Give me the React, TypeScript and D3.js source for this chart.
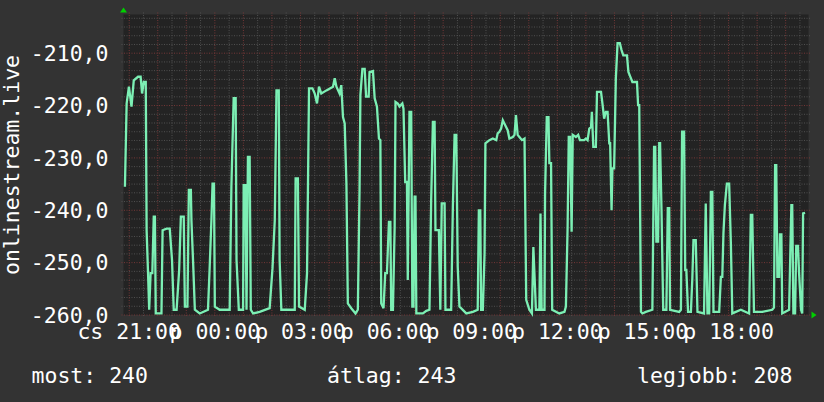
import React from 'react';
import * as d3 from 'd3';

// hours relative to Thursday 21:00
const hours = [
  -0.15, -0.09, -0.01, 0.08, 0.16, 0.31, 0.40, 0.45, 0.51, 0.58, 0.61, 0.66, 0.70, 0.75, 0.81, 0.86, 0.90, 0.93,
  1.13, 1.17, 1.31, 1.42, 1.50, 1.56, 1.66, 1.75, 1.81, 1.91, 1.95, 2.04, 2.09, 2.16, 2.18, 2.24, 2.30, 2.47,
  2.76, 2.82, 2.88, 2.92, 2.97, 3.00, 3.17, 3.52, 3.58, 3.66, 3.73, 3.76, 3.84, 3.99, 4.01, 4.07, 4.11, 4.16,
  4.22, 4.26, 4.34, 4.57, 4.92, 5.02, 5.10, 5.16, 5.24, 5.27, 5.33, 5.80, 5.83, 5.91, 5.95, 6.15, 6.23, 6.30,
  6.42, 6.50, 6.58, 6.65, 6.73, 6.91, 7.14, 7.20, 7.26, 7.37, 7.43, 7.49, 7.55, 7.61, 7.66, 7.78, 7.93, 8.01,
  8.07, 8.10, 8.17, 8.25, 8.30, 8.39, 8.42, 8.54, 8.60, 8.68, 8.75, 8.80, 8.83, 8.91, 8.97, 9.03, 9.10, 9.15,
  9.18, 9.24, 9.30, 9.33, 9.41, 9.47, 9.57, 9.61, 9.67, 9.73, 9.76, 9.82, 9.88, 9.92, 9.96, 10.00, 10.03, 10.06,
  10.29, 10.41, 10.52, 10.58, 10.64, 10.70, 10.73, 10.85, 10.90, 10.95, 11.05, 11.08, 11.28, 11.34, 11.40, 11.46,
  11.51, 11.57, 11.81, 12.04, 12.21, 12.25, 12.30, 12.33, 12.39, 12.45, 12.48, 12.62, 12.74, 12.86, 12.91, 12.97,
  13.03, 13.09, 13.17, 13.26, 13.32, 13.44, 13.50, 13.55, 13.61, 13.67, 13.76, 13.85, 13.91, 14.02, 14.11, 14.16,
  14.19, 14.25, 14.37, 14.41, 14.45, 14.55, 14.57, 14.63, 14.69, 14.72, 14.78, 14.82, 15.07, 15.25, 15.30, 15.36,
  15.40, 15.45, 15.50, 15.54, 15.65, 15.73, 15.79, 15.94, 16.00, 16.06, 16.12, 16.18, 16.21, 16.26, 16.35, 16.39,
  16.53, 16.58, 16.64, 16.70, 16.76, 16.82, 16.85, 16.90, 16.93, 16.99, 17.05, 17.11, 17.19, 17.25, 17.31, 17.44,
  17.49, 17.58, 17.63, 17.79, 17.83, 17.87, 17.93, 17.98, 18.10, 18.33, 18.39, 18.43, 18.47, 18.53, 18.57, 18.60,
  18.65, 18.71, 18.82, 18.87, 18.92, 18.95, 19.27, 19.33, 19.37, 19.44, 19.48, 19.52, 19.58, 19.68, 19.73, 19.77,
  19.85, 19.91, 20.14, 20.20, 20.26, 20.32, 20.38, 20.43, 20.47, 20.67, 20.73, 20.78, 20.82, 20.87, 20.94, 21.02,
  21.08, 21.13, 21.43, 21.72, 21.78, 21.83, 21.89, 22.18, 22.53, 22.59, 22.63, 22.67, 22.71, 22.77, 22.80, 22.85,
  22.88, 23.12, 23.20, 23.23, 23.27, 23.33, 23.37, 23.43, 23.47, 23.54, 23.58, 23.61, 23.68,
];

const values = [
  -235.5, -219.6, -216.4, -220.2, -215.2, -214.5, -214.5, -217.7, -215.5, -215.5, -243.8, -252, -259, -252, -252, -241.2, -241.2, -259.7,
  -259.7, -243.8, -243.5, -243.5, -249.5, -259, -259, -251.4, -241.2, -241.2, -258.4, -258.4, -236.1, -236.1, -241.9, -250.1, -259, -259.7,
  -259, -250.8, -241.9, -234.9, -234.9, -258.4, -259, -259, -235.5, -218.6, -218.6, -249.5, -259, -259, -235.2, -235.2, -259, -229.8,
  -229.8, -259, -259.7, -259.4, -258.7, -251.1, -241.9, -217.1, -217.1, -249.5, -259, -259, -233.9, -233.9, -258.4, -259, -252, -216.7,
  -216.7, -217.7, -219.6, -216.4, -217.7, -217.1, -216.4, -214.8, -216.4, -217.7, -216.1, -222.2, -223.4, -234.9, -257.8, -258.7, -259.7, -259,
  -236.1, -218.0, -213.0, -213.0, -218.3, -218.3, -213.6, -213.4, -218.6, -220.2, -226.3, -226.6, -257.8, -258.7, -252, -252, -242.2, -242.2,
  -259, -259, -243.2, -219.3, -219.6, -220.2, -219.6, -220.6, -234.6, -234.6, -253.3, -221.2, -221.2, -258.4, -258.4, -237.4, -237.4, -259.7,
  -259.7, -259.2, -259, -238, -223.1, -223.1, -243.8, -243.8, -259, -238.7, -238.7, -259, -259, -239.3, -225.6, -225.6,
  -250.8, -258.4, -259.7, -259.4, -259, -240, -240, -259, -259, -248.2, -227.2, -226.6, -226.3, -226.6, -225.3, -225,
  -224.4, -222.8, -223.7, -224.7, -226.3, -226, -225.6, -221.8, -225.6, -226, -226.6, -226.3, -257.1, -259, -259.7, -247,
  -251.1, -259, -259, -240.6, -259, -259, -236.8, -222.2, -222.2, -231, -231, -259, -259.7, -259.4, -258.4, -243.2,
  -226, -226, -244.1, -225.6, -226, -225.6, -226.6, -226.6, -226.3, -226.6, -224.4, -224.1, -221.2, -227.9, -227.9, -217.4,
  -217.4, -219.6, -222.5, -221.2, -221.2, -227.2, -227.2, -240, -232, -232, -214.8, -208.1, -208.1, -209.4, -210.4, -210.4,
  -213.6, -214.8, -215.5, -215.5, -219.9, -219.9, -259.4, -259.7, -259.4, -259, -227.9, -227.9, -246, -246, -227.2, -227.2,
  -240, -259, -259, -239.6, -239.6, -259, -259.4, -259, -225, -225, -251.4, -251.4, -259.4, -259.4, -253, -245.7,
  -245.7, -259.4, -259.7, -238.7, -259.7, -259.7, -236.5, -236.5, -259.4, -259.4, -252.7, -252.7, -244.4, -239, -234.9, -234.9,
  -246.3, -259.7, -259, -259.7, -240.9, -240.9, -259.4, -259.4, -259, -258.6, -231.4, -231.4, -252.7, -252.7, -244.6, -244.6,
  -259.7, -259, -239, -239, -259.7, -259.7, -246.8, -246.8, -252, -259, -259.7, -240.6, -240.5,
];

const yTicks = [-260, -250, -240, -230, -220, -210];
const xLabelHours = [0, 3, 6, 9, 12, 15, 18, 21];
const xLabels = ['cs 21:00', 'p 00:00', 'p 03:00', 'p 06:00', 'p 09:00', 'p 12:00', 'p 15:00', 'p 18:00'];
const yTitle = 'onlinestream.live';
const legendItems = ['most: 240', 'átlag: 243', 'legjobb: 208'];

const W = 824;
const H = 402;
const L = 123.5;
const R = 808.5;
const T = 14.5;
const B = 315;
const FONT = "'DejaVu Sans Mono', monospace";
const FS = 21.5;

export default function App() {
  const x = d3.scaleLinear().domain([-0.2, 23.8]).range([L, R]);
  const y = d3.scaleLinear().domain([-260, -210]).range([B, 53.2]);
  const yTop = y.invert(T);

  const minorY: number[] = [];
  for (let k = 1; ; k++) {
    const v = -260 + (k * 10) / 6;
    if (v > yTop) break;
    if (k % 6 !== 0) minorY.push(v);
  }
  const majorY = d3.range(-260, yTop, 10);
  const minorX: number[] = [];
  const majorX: number[] = [];
  for (let h = 0; h <= 23.8; h += 0.5) {
    if (Math.abs(h - Math.round(h)) < 1e-6) majorX.push(h);
    else minorX.push(h);
  }

  const pts = hours.map((h, i) => [h, values[i]] as [number, number]);
  const line = d3
    .line<[number, number]>()
    .x((d) => x(d[0]))
    .y((d) => y(d[1]));

  const legendX = [31.5, 327, 637];

  return (
    <svg
      width={W}
      height={H}
      style={{ position: 'absolute', left: 0, top: 0, display: 'block' }}
      fontFamily={FONT}
    >
      <rect x={0} y={0} width={W} height={H} fill="#333333" />
      <rect x={L} y={T} width={R - L} height={B - T} fill="#232323" />
      {minorY.map((v) => (
        <line key={'my' + v} x1={L - 2} x2={R + 2} y1={y(v)} y2={y(v)} stroke="#505050" strokeWidth={1} strokeDasharray="1,1.5" />
      ))}
      {minorX.map((h) => (
        <line key={'mx' + h} x1={x(h)} x2={x(h)} y1={T - 2} y2={B + 2} stroke="#505050" strokeWidth={1} strokeDasharray="1,1.5" />
      ))}
      {majorY.map((v) => (
        <line key={'My' + v} x1={L - 2} x2={R + 2} y1={y(v)} y2={y(v)} stroke="#753737" strokeWidth={1} strokeDasharray="1,1.5" />
      ))}
      {majorX.map((h) => (
        <line key={'Mx' + h} x1={x(h)} x2={x(h)} y1={T - 2} y2={B + 2} stroke="#753737" strokeWidth={1} strokeDasharray="1,1.5" />
      ))}
      <path d={line(pts) || ''} fill="none" stroke="#7cefb4" strokeWidth={2.3} strokeLinejoin="miter" />
      <path d={`M${L - 3.5},${T - 2} L${L + 3.5},${T - 2} L${L},${T - 7} Z`} fill="#00d000" />
      <path d={`M${R + 3},${B - 3.5} L${R + 3},${B + 3.5} L${R + 8},${B} Z`} fill="#00d000" />
      {yTicks.map((v) => (
        <text key={'yl' + v} x={108.5} y={y(v) + 7.8} textAnchor="end" fill="#ffffff" fontSize={FS}>
          {d3.format('.1f')(v).replace('.', ',').replace('−', '-')}
        </text>
      ))}
      {xLabelHours.map((h, i) => (
        <text key={'xl' + h} x={x(h)} y={338.5} textAnchor="middle" fill="#ffffff" fontSize={FS}>
          {xLabels[i]}
        </text>
      ))}
      <text transform={`translate(18.5, 165) rotate(-90)`} textAnchor="middle" fill="#ffffff" fontSize={FS}>
        {yTitle}
      </text>
      {legendItems.map((s, i) => (
        <text key={'lg' + i} x={legendX[i]} y={383} fill="#ffffff" fontSize={FS} style={{ whiteSpace: 'pre' }}>
          {s}
        </text>
      ))}
    </svg>
  );
}
